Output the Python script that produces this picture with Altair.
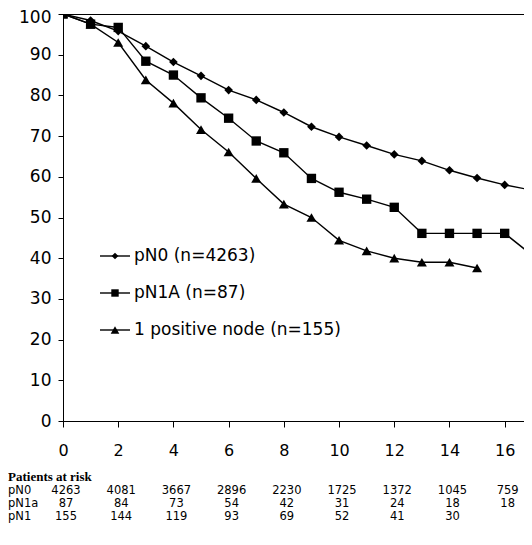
import altair as alt
import pandas as pd

# ---- survival curves (percent) ----
years_long = list(range(0, 18))
pn0_vals = [100, 98.4, 95.8, 92.1, 88.2, 84.8, 81.3, 78.9, 75.8, 72.3, 69.8,
            67.7, 65.5, 63.9, 61.6, 59.7, 58.0, 56.7]
pn1a_vals = [100, 97.5, 96.7, 88.4, 85.0, 79.4, 74.4, 68.8, 65.9, 59.6, 56.2,
             54.5, 52.5, 46.1, 46.1, 46.1, 46.1, 40.7]
years_short = list(range(0, 16))
pos1_vals = [100, 97.5, 93.0, 83.8, 78.1, 71.6, 66.1, 59.6, 53.3, 50.0, 44.4,
             41.8, 40.0, 39.0, 39.0, 37.6]

series_names = ["pN0 (n=4263)", "pN1A (n=87)", "1 positive node (n=155)"]
series_shapes = ["diamond", "square", "triangle-up"]

# ---- patients at risk ----
risk_years = [0, 2, 4, 6, 8, 10, 12, 14, 16]
risk_pn0 = [4263, 4081, 3667, 2896, 2230, 1725, 1372, 1045, 759]
risk_pn1a = [87, 84, 73, 54, 42, 31, 24, 18, 18]
risk_pn1 = [155, 144, 119, 93, 69, 52, 41, 30]
risk_labels = ["pN0", "pN1a", "pN1"]

y_ticks = list(range(0, 101, 10))
x_ticks = list(range(0, 17))

rows = []
for name, yrs, vals in zip(series_names,
                           [years_long, years_long, years_short],
                           [pn0_vals, pn1a_vals, pos1_vals]):
    for yr, v in zip(yrs, vals):
        rows.append({"series": name, "year": yr, "value": v})
df = pd.DataFrame(rows)

FONT = "DejaVu Sans"

# the reference image is cropped just past year 16.7
x_enc = alt.X("year:Q",
              scale=alt.Scale(domain=[0, 16.7], nice=False, zero=False),
              axis=alt.Axis(values=x_ticks, title=None, grid=False,
                            labelExpr="datum.value % 2 == 0 ? datum.label : ''",
                            labelOverlap=False, labelFlush=False,
                            tickSize=6, labelPadding=15, labelFontSize=16,
                            domainColor="black", tickColor="black",
                            labelColor="black", labelFont=FONT))
y_enc = alt.Y("value:Q",
              scale=alt.Scale(domain=[0, 100], nice=False),
              axis=alt.Axis(values=y_ticks, title=None, grid=False,
                            tickSize=5, labelPadding=7, labelFontSize=17,
                            labelOffset={"condition": {"test": "datum.value == 100",
                                                       "value": 3},
                                         "value": 0},
                            domainColor="black", tickColor="black",
                            labelColor="black", labelFont=FONT))

base = alt.Chart(df)
lines = base.mark_line(color="black", strokeWidth=1.4, clip=True).encode(
    x=x_enc, y=y_enc, detail="series:N")
points = base.mark_point(filled=True, color="black", opacity=1, clip=True).encode(
    x="year:Q", y="value:Q",
    shape=alt.Shape("series:N", legend=None,
                    scale=alt.Scale(domain=series_names, range=series_shapes)),
    size=alt.Size("series:N", legend=None,
                  scale=alt.Scale(domain=series_names, range=[75, 100, 115])),
)

layers = [lines, points]

# ---- in-plot legend ----
legend_y = [242, 279, 316]
legend_sizes = [45, 55, 75]
for name, shp, yy, sz in zip(series_names, series_shapes, legend_y, legend_sizes):
    ldf = pd.DataFrame({"s": [name]})
    lc = alt.Chart(ldf)
    layers.append(lc.mark_rule(color="black", strokeWidth=1.4).encode(
        x=alt.value(37), x2=alt.value(67), y=alt.value(yy)))
    layers.append(lc.mark_point(filled=True, color="black", opacity=1,
                                shape=shp, size=sz).encode(
        x=alt.value(52), y=alt.value(yy)))
    layers.append(lc.mark_text(align="left", baseline="middle", fontSize=17,
                               font=FONT, color="black").encode(
        x=alt.value(71), y=alt.value(yy), text="s:N"))

# ---- patients at risk table ----
title_df = pd.DataFrame({"t": ["Patients at risk"]})
layers.append(alt.Chart(title_df).mark_text(
    align="left", baseline="middle", fontSize=13, fontWeight="bold",
    font="Liberation Serif", color="black").encode(
    x=alt.value(-55), y=alt.value(463), text="t:N"))

row_y = [477, 490, 503]
for lab, counts, yy in zip(risk_labels, [risk_pn0, risk_pn1a, risk_pn1], row_y):
    rdf = pd.DataFrame({"year": risk_years[:len(counts)], "n": counts})
    layers.append(alt.Chart(rdf).mark_text(
        align="center", baseline="middle", fontSize=11.5, font=FONT,
        color="black", dx=3).encode(
        x="year:Q", y=alt.value(yy), text=alt.Text("n:Q", format="d")))
    layers.append(alt.Chart(pd.DataFrame({"lab": [lab]})).mark_text(
        align="left", baseline="middle", fontSize=11.5, font=FONT,
        color="black").encode(
        x=alt.value(-55), y=alt.value(yy), text="lab:N"))

chart = alt.layer(*layers).properties(
    width=461, height=407,
    autosize=alt.AutoSizeParams(type="none"),
    padding={"left": 55, "top": 6, "right": 0, "bottom": 110},
    background="white",
).configure_view(stroke="black", strokeWidth=1)

chart.save("out.html", embed_options={"renderer": "svg", "actions": False})
